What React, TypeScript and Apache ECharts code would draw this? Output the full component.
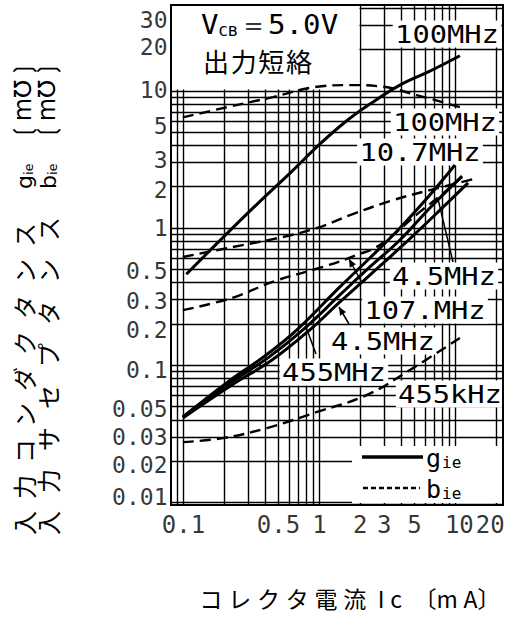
import React, { useEffect, useRef } from 'react';
import * as echarts from 'echarts';

// ---- axis ranges (log-log) ----
const X_MIN = 0.081;
const X_MAX = 22.4;
const Y_MIN = 0.00957;
const Y_MAX = 42.2;

// ---- tick labels ----
const xTickValues = [0.1, 0.5, 1, 2, 3, 5, 10, 20];
const xTickLabels = ['0.1', '0.5', '1', '2', '3', '5', '10', '20'];
const yTickValues = [30, 20, 10, 5, 3, 2, 1, 0.5, 0.3, 0.2, 0.1, 0.05, 0.03, 0.02, 0.01];
const yTickLabels = ['30', '20', '10', '5', '3', '2', '1', '0.5', '0.3', '0.2', '0.1', '0.05', '0.03', '0.02', '0.01'];

// ---- grid lines (log paper) ----
const xGridDecades = [0.01, 0.1, 1, 10];
const yGridDecades = [0.001, 0.01, 0.1, 1, 10];
const gridMultipliers = [1, 2, 3, 4, 5, 6, 7, 8, 9];

// ---- series: [Ic (mA), value (mS)] ----
// g_ie (solid)
const gie100MHz = [[0.105, 0.46], [0.19, 0.83], [0.35, 1.5], [0.63, 2.6], [1.01, 4.1], [1.54, 5.9], [2.35, 8.0], [3.91, 11.0], [6.49, 13.9], [10.8, 18.0]];
const gie10_7MHz = [[0.099, 0.0419], [0.212, 0.0755], [0.397, 0.1167], [0.683, 0.181], [1.415, 0.372], [2.35, 0.604], [3.91, 1.0], [6.49, 1.74], [9.92, 2.88]];
const gie4_5MHz = [[0.099, 0.0419], [0.22, 0.0742], [0.418, 0.113], [0.756, 0.181], [1.415, 0.325], [2.35, 0.52], [3.91, 0.818], [6.49, 1.4], [11.2, 2.39]];
const gie455kHz = [[0.099, 0.0412], [0.227, 0.0717], [0.448, 0.109], [0.851, 0.181], [1.415, 0.289], [2.35, 0.454], [3.91, 0.715], [7.07, 1.244], [12.4, 2.13]];
// b_ie (dashed)
const bie100MHz = [[0.099, 6.4], [0.21, 7.6], [0.455, 9.0], [0.96, 10.7], [1.68, 11.0], [2.93, 10.7], [5.2, 9.3], [10.8, 7.6]];
const bie10_7MHz = [[0.099, 0.615], [0.231, 0.727], [0.539, 0.86], [0.96, 1.0], [1.68, 1.24], [3.3, 1.57], [6.5, 1.89], [14.6, 2.31]];
const bie4_5MHz = [[0.099, 0.252], [0.227, 0.309], [0.471, 0.411], [1.06, 0.52], [1.89, 0.636], [2.78, 0.752], [5.48, 1.31], [7.69, 1.71], [11.2, 2.35]];
const bie455kHz = [[0.099, 0.0275], [0.195, 0.0294], [0.411, 0.0348], [0.959, 0.0456], [2.24, 0.0607], [4.63, 0.0923], [10.8, 0.158]];

const MONO = '"DejaVu Sans Mono", "Liberation Mono", monospace';
const JP = '"Noto Sans CJK JP", "Noto Sans CJK SC", sans-serif';
const SANS = '"DejaVu Sans", sans-serif';

function buildGridLines(decades: number[], lo: number, hi: number) {
  const out: number[] = [];
  decades.forEach((d) => gridMultipliers.forEach((m) => {
    const v = +(d * m).toPrecision(6);
    if (v > lo * 1.001 && v < hi * 0.999) out.push(v);
  }));
  return out;
}

function arrowHead(tx: number, ty: number, hx: number, hy: number) {
  const dx = hx - tx, dy = hy - ty;
  const len = Math.sqrt(dx * dx + dy * dy);
  const ux = dx / len, uy = dy / len;
  const L = 8, W = 3.5;
  const bx = hx - ux * L, by = hy - uy * L;
  return {
    type: 'polygon', z: 7, silent: true,
    shape: { points: [[hx, hy], [bx - uy * W, by + ux * W], [bx + uy * W, by - ux * W]] },
    style: { fill: '#000' },
  };
}

function leader(x1: number, y1: number, x2: number, y2: number) {
  return { type: 'line', z: 7, silent: true, shape: { x1, y1, x2, y2 }, style: { stroke: '#000', lineWidth: 1.5 } };
}

function curveLabel(text: string, x: number, y: number) {
  return {
    type: 'text', z: 4, silent: true, x, y, scaleX: 1.15,
    style: {
      text, font: `25px ${MONO}`, fill: '#000', backgroundColor: '#fff', padding: [1, 2],
      align: 'center', verticalAlign: 'middle', textAlign: 'center', textVerticalAlign: 'middle',
    },
  };
}

export default function App() {
  const ref = useRef<HTMLDivElement>(null);

  useEffect(() => {
    const chart = echarts.init(ref.current!, null, { renderer: 'svg' });

    const xGrid = buildGridLines(xGridDecades, X_MIN, X_MAX);
    const yGrid = buildGridLines(yGridDecades, Y_MIN, Y_MAX);

    const gStyle = { color: '#000', width: 3, type: 'solid' as const };
    const bStyle = { color: '#000', width: 2.4, type: [11, 6] as any };
    const curve = (name: string, data: number[][], ls: any) => ({
      name, type: 'line', data, smooth: 0.4, showSymbol: false, symbol: 'none',
      lineStyle: ls, itemStyle: { color: '#000' }, z: 5, silent: true, clip: true,
    });

    // label nudges (px) so tick texts sit where the printed ones do
    const xNudge: Record<string, number> = { '10': 4, '20': -6 };
    const yNudge = [-5, -2, -1, -6, -3, 3, 0, 2, 1, 6, 5, 3, 0, 4, -5];

    const subRich = (big: number, small: number, fam: string, lh: number) => ({
      a: { font: `${big}px ${fam}`, verticalAlign: 'bottom', lineHeight: lh },
      b: { font: `${small}px ${fam}`, verticalAlign: 'bottom', lineHeight: lh, padding: [0, 0, 0, 1] },
    });

    const kata1 = ['入', '力', 'コ', 'ン', 'ダ', 'ク', 'タ', 'ン', 'ス'].join('\u2002');
    const kata2 = ['入', '力', 'サ', 'セ', 'プ', 'タ', 'ン', 'ス'].join('\u2002\u2005');

    const option: any = {
      animation: false,
      backgroundColor: '#fff',
      grid: {
        left: 171, top: 5, width: 332, height: 500, show: true, z: 10,
        borderColor: '#000', borderWidth: 2, backgroundColor: 'transparent',
      },
      xAxis: {
        type: 'log', logBase: 10, min: X_MIN, max: X_MAX,
        axisLine: { show: false }, axisTick: { show: false }, axisLabel: { show: false },
        splitLine: { show: false }, minorSplitLine: { show: false },
      },
      yAxis: {
        type: 'log', logBase: 10, min: Y_MIN, max: Y_MAX,
        axisLine: { show: false }, axisTick: { show: false }, axisLabel: { show: false },
        splitLine: { show: false }, minorSplitLine: { show: false },
      },
      series: [
        {
          name: 'grid', type: 'line', data: [[1, 1]], showSymbol: false, symbol: 'none',
          lineStyle: { opacity: 0 }, silent: true, z: 1,
          markLine: {
            z: 1, silent: true, symbol: ['none', 'none'], animation: false,
            label: { show: false }, emphasis: { disabled: true },
            lineStyle: { color: '#000', width: 1.4, type: 'solid' },
            data: [...xGrid.map((v) => ({ xAxis: v })), ...yGrid.map((v) => ({ yAxis: v }))],
          },
        },
        {
          name: 'yTicks', type: 'scatter', silent: true, clip: false, z: 6,
          symbol: 'circle', symbolSize: 1, itemStyle: { color: 'rgba(0,0,0,0)' },
          data: yTickValues.map((v, i) => ({ value: [X_MIN, v], label: { offset: [0, yNudge[i]] } })),
          label: {
            show: true, position: 'left', distance: 3, color: '#000',
            fontFamily: MONO, fontSize: 23,
            formatter: (p: any) => yTickLabels[p.dataIndex],
          },
        },
        {
          name: 'xTicks', type: 'scatter', silent: true, clip: false, z: 6,
          symbol: 'circle', symbolSize: 1, itemStyle: { color: 'rgba(0,0,0,0)' },
          data: xTickValues.map((v, i) => ({
            value: [v, Y_MIN],
            label: { offset: [xNudge[xTickLabels[i]] || 0, 0] },
          })),
          label: {
            show: true, position: 'bottom', distance: 7, color: '#000',
            fontFamily: MONO, fontSize: 24,
            formatter: (p: any) => xTickLabels[p.dataIndex],
          },
        },
        curve('gie 100MHz', gie100MHz, gStyle),
        curve('gie 10.7MHz', gie10_7MHz, gStyle),
        curve('gie 4.5MHz', gie4_5MHz, gStyle),
        curve('gie 455kHz', gie455kHz, gStyle),
        curve('bie 100MHz', bie100MHz, bStyle),
        curve('bie 10.7MHz', bie10_7MHz, bStyle),
        curve('bie 4.5MHz', bie4_5MHz, bStyle),
        curve('bie 455kHz', bie455kHz, bStyle),
      ],
      graphic: {
        elements: [
          // condition box (blank area of the paper)
          { type: 'rect', z: 3, silent: true, shape: { x: 172, y: 6, width: 187.5, height: 83.5 }, style: { fill: '#fff' } },
          {
            type: 'text', z: 4, silent: true, x: 201, y: 24, scaleX: 1.12,
            style: {
              text: '{v|V}{s|CB}{v|＝5.0V}', fill: '#000',
              align: 'left', verticalAlign: 'middle', textAlign: 'left', textVerticalAlign: 'middle',
              rich: {
                v: { font: `26px ${MONO}`, lineHeight: 28, verticalAlign: 'bottom' },
                s: { font: `14px ${MONO}`, lineHeight: 28, verticalAlign: 'bottom', padding: [0, 1, 0, 0] },
              },
            },
          },
          {
            type: 'text', z: 4, silent: true, x: 203, y: 60,
            style: {
              text: '出\u200A力\u200A短\u200A絡', font: `26px ${JP}`, fill: '#000',
              align: 'left', verticalAlign: 'middle', textAlign: 'left', textVerticalAlign: 'middle',
            },
          },
          // curve labels
          curveLabel('100MHz', 447, 34),
          curveLabel('100MHz', 445, 122),
          curveLabel('10.7MHz', 420, 152),
          curveLabel('4.5MHz', 444, 276),
          curveLabel('107.MHz', 425, 310),
          curveLabel('4.5MHz', 383, 341),
          curveLabel('455MHz', 334, 372),
          curveLabel('455kHz', 450, 394),
          // leader lines / arrows
          leader(453, 262, 438, 199),
          leader(362, 283, 349, 259),
          arrowHead(362, 283, 349, 259),
          leader(349, 324, 339, 307),
          arrowHead(349, 324, 339, 307),
          leader(316, 354, 306, 327),
          // legend
          { type: 'rect', z: 3, silent: true, shape: { x: 352, y: 446, width: 150, height: 57 }, style: { fill: '#fff' } },
          { type: 'line', z: 5, silent: true, shape: { x1: 362, y1: 457, x2: 423, y2: 457 }, style: { stroke: '#000', lineWidth: 3.5 } },
          {
            type: 'text', z: 5, silent: true, x: 426, y: 458,
            style: {
              text: '{a|g}{b|ie}', fill: '#000',
              align: 'left', verticalAlign: 'middle', textAlign: 'left', textVerticalAlign: 'middle',
              rich: subRich(25, 16, MONO, 25),
            },
          },
          { type: 'line', z: 5, silent: true, shape: { x1: 363, y1: 488, x2: 420, y2: 488 }, style: { stroke: '#000', lineWidth: 2.5, lineDash: [5, 3] } },
          {
            type: 'text', z: 5, silent: true, x: 426, y: 489,
            style: {
              text: '{a|b}{b|ie}', fill: '#000',
              align: 'left', verticalAlign: 'middle', textAlign: 'left', textVerticalAlign: 'middle',
              rich: subRich(25, 16, MONO, 25),
            },
          },
          // y axis title: two vertical columns in one rotated text
          {
            type: 'text', z: 4, silent: true, x: 35, y: 535, rotation: Math.PI / 2,
            style: {
              text:
                `{k|${kata1}}{gap| }{a|g}{b|ie}{gap2| }{u|❲m℧❳}\n` +
                `{k|${kata2}}{gap| }{a|b}{b|ie}{gap2| }{u|❲m℧❳}`,
              fill: '#000',
              align: 'left', verticalAlign: 'middle', textAlign: 'left', textVerticalAlign: 'middle',
              rich: {
                k: { font: `24px ${JP}`, width: 320, lineHeight: 24 },
                gap: { font: `12px ${SANS}`, width: 26, lineHeight: 24 },
                a: { font: `22px ${SANS}`, lineHeight: 24, verticalAlign: 'bottom' },
                b: { font: `13px ${SANS}`, lineHeight: 24, verticalAlign: 'bottom' },
                gap2: { font: `12px ${SANS}`, width: 22, lineHeight: 24 },
                u: { font: `24px ${SANS}`, lineHeight: 24 },
              },
            },
          },
          // x axis title
          {
            type: 'text', z: 4, silent: true, x: 350, y: 598,
            style: {
              text: 'コ\u2005レ\u2005ク\u2005タ\u2005電\u2005流\u2002I\u2005c\u2002〔m\u2005A〕',
              font: `23px ${JP}`, fill: '#000',
              align: 'center', verticalAlign: 'middle', textAlign: 'center', textVerticalAlign: 'middle',
            },
          },
        ],
      },
    };

    chart.setOption(option);
    return () => chart.dispose();
  }, []);

  return (
    <div
      ref={ref}
      style={{ position: 'fixed', left: 0, top: 0, width: 509, height: 621, background: '#fff' }}
    />
  );
}
